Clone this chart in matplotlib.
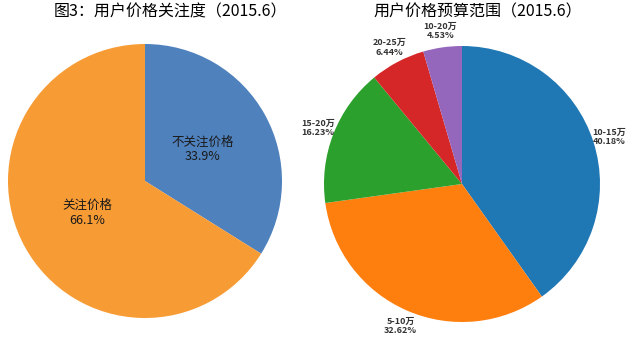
import matplotlib
matplotlib.use("Agg")
import matplotlib.pyplot as plt

plt.rcParams['font.family'] = ['Noto Sans CJK SC', 'DejaVu Sans']

left_labels = ["不关注价格", "关注价格"]
left_values = [33.9, 66.1]
left_colors = ["#4F81BD", "#F79B35"]

right_labels = ["10-15万", "5-10万", "15-20万", "20-25万", "10-20万"]
right_values = [40.18, 32.62, 16.23, 6.44, 4.53]
right_colors = ["#1f77b4", "#ff7f0e", "#2ca02c", "#d62728", "#9467bd"]

W, H = 636, 341
fig = plt.figure(figsize=(W / 100, H / 100), dpi=100)

def axes_at(cx, cy, r):
    ax = fig.add_axes([(cx - r) / W, 1 - (cy + r) / H, 2 * r / W, 2 * r / H])
    ax.set_xlim(-1, 1)
    ax.set_ylim(-1, 1)
    ax.axis("off")
    return ax

ax1 = axes_at(145, 181, 137)
ax1.pie(left_values, colors=left_colors, startangle=90, counterclock=False,
        radius=1, labels=[f"{l}\n{v}%" for l, v in zip(left_labels, left_values)],
        labeldistance=0.48,
        textprops=dict(fontsize=9, color="#1a1a1a", ha="center", va="center", linespacing=1.15))
ax1.set_xlim(-1, 1)
ax1.set_ylim(-1, 1)
fig.text(170 / W, 1 - 12 / H, "图3：用户价格关注度（2015.6）", ha="center", va="center", fontsize=11.5)

ax2 = axes_at(462, 184, 138)
ax2.pie(right_values, colors=right_colors, startangle=90, counterclock=False,
        radius=1, labels=[f"{l}\n{v:.2f}%" for l, v in zip(right_labels, right_values)],
        labeldistance=1.12,
        textprops=dict(fontsize=6.5, fontweight="bold", color="#333333",
                       ha="center", va="center", linespacing=1.1))
ax2.set_xlim(-1, 1)
ax2.set_ylim(-1, 1)
fig.text(478 / W, 1 - 12 / H, "用户价格预算范围（2015.6）", ha="center", va="center", fontsize=11.5)

fig.savefig("out.png", dpi=100)
